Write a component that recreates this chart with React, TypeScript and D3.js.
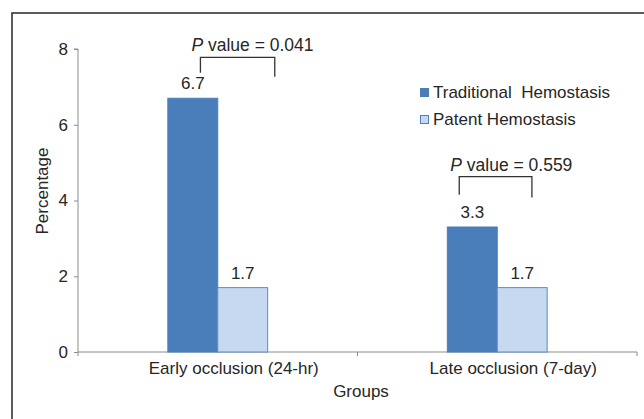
import { useEffect, useRef } from "react";
import * as d3 from "d3";

const groups = ["Early occlusion (24-hr)", "Late occlusion (7-day)"];
const seriesNames = ["Traditional  Hemostasis", "Patent Hemostasis"];
const traditional = [6.7, 3.3];
const patent = [1.7, 1.7];
const yTicks = [0, 2, 4, 6, 8];

// significance brackets: p value, bracket top / leg ends in data units,
// leg positions as a fraction of the group band
const pValues = ["0.041", "0.559"];
const bracketTop = [7.78, 4.63];
const bracketLeftEnd = [7.37, 4.15];
const bracketRightEnd = [7.27, 4.08];
const bracketLeftFrac = [0.438, 0.364];
const bracketRightFrac = [0.704, 0.624];

const colors = ["#4a7ebb", "#c6d9f1"];
const strokes = ["#4a7ebb", "#5b8bc9"];

export default function App() {
  const svgRef = useRef<SVGSVGElement>(null);

  useEffect(() => {
    if (!svgRef.current) return;
    const svg = d3.select(svgRef.current);
    svg.selectAll("*").remove();

    const font = "'Liberation Sans', Arial, sans-serif";
    const textColor = "#262626";
    const fs = 17;

    // outer frame
    svg.append("rect")
      .attr("x", 12).attr("y", 13)
      .attr("width", 700).attr("height", 500)
      .attr("fill", "none")
      .attr("stroke", "#333")
      .attr("stroke-width", 1.6);

    const x0 = d3.scaleBand().domain(groups).range([78, 637]).padding(0);
    const x1 = d3.scaleBand()
      .domain(seriesNames)
      .range([0, x0.bandwidth()])
      .paddingInner(0)
      .paddingOuter(1.8);
    const y = d3.scaleLinear().domain([0, 8]).range([352, 49]);

    // y axis
    const yAxis = svg.append("g")
      .attr("transform", `translate(78,0)`)
      .call(d3.axisLeft(y).tickValues(yTicks).tickSize(4).tickPadding(6));
    yAxis.selectAll("path, line").attr("stroke", "#8c8c8c");
    yAxis.select(".domain").attr("d", `M-4,${y(8)}H0V${y(0)}`);
    yAxis.selectAll("text")
      .attr("font-family", font).attr("font-size", fs).attr("fill", textColor);

    // x axis
    const xAxisG = svg.append("g").attr("transform", `translate(0,${y(0)})`);
    xAxisG.append("line")
      .attr("x1", x0.range()[0]).attr("x2", x0.range()[1])
      .attr("stroke", "#8c8c8c");
    const edges = [...groups.map(g => x0(g)!), x0.range()[1]];
    xAxisG.selectAll(".edge").data(edges).enter().append("line")
      .attr("x1", d => d).attr("x2", d => d)
      .attr("y1", 0).attr("y2", 4)
      .attr("stroke", "#8c8c8c");
    xAxisG.selectAll(".lbl").data(groups).enter().append("text")
      .attr("x", d => x0(d)! + x0.bandwidth() / 2 + 16)
      .attr("y", 22)
      .attr("text-anchor", "middle")
      .attr("font-family", font).attr("font-size", fs).attr("fill", textColor)
      .text(d => d);

    // axis titles
    svg.append("text")
      .attr("transform", `translate(48,191) rotate(-90)`)
      .attr("text-anchor", "middle")
      .attr("font-family", font).attr("font-size", fs).attr("fill", textColor)
      .text("Percentage");
    svg.append("text")
      .attr("x", 361).attr("y", 397)
      .attr("text-anchor", "middle")
      .attr("font-family", font).attr("font-size", fs).attr("fill", textColor)
      .text("Groups");

    // bars
    const series = [traditional, patent];
    series.forEach((vals, si) => {
      const name = seriesNames[si];
      svg.selectAll(`.bar${si}`).data(vals).enter().append("rect")
        .attr("x", (_, i) => x0(groups[i])! + x1(name)!)
        .attr("y", d => y(d))
        .attr("width", x1.bandwidth())
        .attr("height", d => y(0) - y(d))
        .attr("fill", colors[si])
        .attr("stroke", strokes[si])
        .attr("stroke-width", 1);
      svg.selectAll(`.val${si}`).data(vals).enter().append("text")
        .attr("x", (_, i) => x0(groups[i])! + x1(name)! + x1.bandwidth() / 2)
        .attr("y", d => y(d) - 9)
        .attr("text-anchor", "middle")
        .attr("font-family", font).attr("font-size", fs).attr("fill", textColor)
        .text(d => d.toFixed(1));
    });

    // significance brackets
    groups.forEach((g, i) => {
      const xl = x0(g)! + bracketLeftFrac[i] * x0.bandwidth();
      const xr = x0(g)! + bracketRightFrac[i] * x0.bandwidth();
      svg.append("path")
        .attr("d", `M${xl},${y(bracketLeftEnd[i])}V${y(bracketTop[i])}H${xr}V${y(bracketRightEnd[i])}`)
        .attr("fill", "none")
        .attr("stroke", "#333")
        .attr("stroke-width", 1.3);
      const t = svg.append("text")
        .attr("x", xl - 9)
        .attr("y", y(bracketTop[i]) - 6)
        .attr("font-family", font).attr("font-size", fs + 0.5).attr("fill", textColor);
      t.append("tspan").attr("font-style", "italic").text("P");
      t.append("tspan").text(` value = ${pValues[i]}`);
    });

    // legend
    const legend = svg.append("g").attr("transform", "translate(420,88)");
    seriesNames.forEach((name, i) => {
      const row = legend.append("g").attr("transform", `translate(0,${i * 27})`);
      row.append("rect")
        .attr("x", 0.5).attr("y", 0.5)
        .attr("width", 8).attr("height", 8)
        .attr("fill", colors[i])
        .attr("stroke", i === 0 ? colors[0] : "#4f81bd");
      row.append("text")
        .attr("x", 13).attr("y", 9.5)
        .attr("font-family", font).attr("font-size", fs).attr("fill", textColor)
        .attr("xml:space", "preserve")
        .style("white-space", "pre")
        .text(name);
    });
  }, []);

  return (
    <svg
      ref={svgRef}
      width={644}
      height={419}
      style={{ position: "absolute", left: 0, top: 0, background: "#fff" }}
    />
  );
}
